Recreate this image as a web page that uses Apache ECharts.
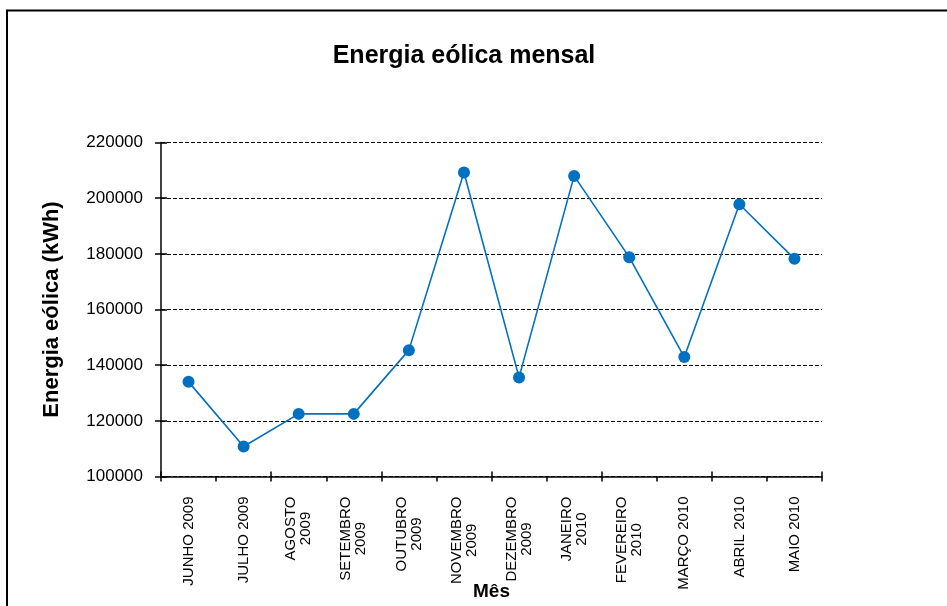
<!DOCTYPE html>
<html>
<head>
<meta charset="utf-8">
<script src="https://cdn.jsdelivr.net/npm/echarts@6/dist/echarts.min.js"></script>
<style>
  html, body { margin: 0; padding: 0; background: #fff; }
  #chart { width: 947px; height: 606px; }
</style>
</head>
<body>
<div id="chart"></div>
<script>
// Monthly wind energy, June 2009 – May 2010 (kWh)
const months = [
  'JUNHO 2009', 'JULHO 2009', 'AGOSTO\n2009', 'SETEMBRO\n2009', 'OUTUBRO\n2009',
  'NOVEMBRO\n2009', 'DEZEMBRO\n2009', 'JANEIRO\n2010', 'FEVEREIRO\n2010',
  'MARÇO 2010', 'ABRIL 2010', 'MAIO 2010'
];
const energyKWh = [134000, 110800, 122500, 122500, 145400, 209200, 135600, 208000, 178800, 142900, 197800, 178200];
const yTicks = { min: 100000, max: 220000, step: 20000 };

const FONT = "'Liberation Sans', Arial, sans-serif";
const chart = echarts.init(document.getElementById('chart'));

chart.setOption({
  backgroundColor: '#ffffff',
  animation: false,
  title: {
    text: 'Energia eólica mensal',
    left: 459,
    top: 39,
    textAlign: 'center',
    textStyle: { fontFamily: FONT, fontSize: 25, fontWeight: 'bold', color: '#000' }
  },
  graphic: [{
    type: 'rect',
    shape: { x: 7, y: 10.5, width: 980, height: 640 },
    style: { fill: 'none', stroke: '#000', lineWidth: 2 },
    silent: true
  }],
  grid: {
    left: 161, right: 125, top: 142.5, bottom: 129.5,
    containLabel: false,
    outerBoundsMode: 'none'
  },
  xAxis: [{
    type: 'category',
    data: months,
    boundaryGap: true,
    name: 'Mês',
    nameLocation: 'middle',
    nameGap: 106,
    nameMoveOverlap: false,
    nameTextStyle: { fontFamily: FONT, fontSize: 19, fontWeight: 'bold', color: '#000' },
    axisLine: { lineStyle: { color: '#000', width: 1.5 } },
    axisTick: { show: true, length: 5, lineStyle: { color: '#000', width: 1.5 } },
    axisLabel: {
      rotate: 90,
      margin: 20,
      interval: 0,
      fontFamily: FONT,
      fontSize: 15,
      color: '#000',
      lineHeight: 15,
      formatter: v => v.split('\n').map(s => '{c|' + s + '}').join('\n'),
      rich: { c: { align: 'center', fontFamily: FONT, fontSize: 15, lineHeight: 15, color: '#000' } }
    },
    splitLine: { show: false }
  }, {
    // inner half of the crossing tick marks
    type: 'category',
    data: months,
    position: 'bottom',
    boundaryGap: true,
    axisLine: { show: false },
    axisTick: { show: true, inside: true, length: 5, lineStyle: { color: '#000', width: 1.5 } },
    axisLabel: { show: false },
    splitLine: { show: false }
  }],
  yAxis: [{
    type: 'value',
    min: yTicks.min,
    max: yTicks.max,
    interval: yTicks.step,
    name: 'Energia eólica (kWh)',
    nameLocation: 'middle',
    nameGap: 98,
    nameMoveOverlap: false,
    nameTextStyle: { fontFamily: FONT, fontSize: 22, fontWeight: 'bold', color: '#000' },
    axisLine: { show: true, lineStyle: { color: '#000', width: 1.5 } },
    axisTick: { show: true, length: 6, lineStyle: { color: '#000', width: 1.5 } },
    axisLabel: { margin: 18, fontFamily: FONT, fontSize: 17, color: '#000', formatter: v => String(v) },
    splitLine: { show: true, lineStyle: { color: '#000', width: 1, type: [4, 2] } }
  }, {
    // inner half of the crossing tick marks
    type: 'value',
    position: 'left',
    min: yTicks.min,
    max: yTicks.max,
    interval: yTicks.step,
    axisLine: { show: false },
    axisTick: { show: true, inside: true, length: 6, lineStyle: { color: '#000', width: 1.5 } },
    axisLabel: { show: false },
    splitLine: { show: false }
  }],
  series: [{
    type: 'line',
    xAxisIndex: 0,
    yAxisIndex: 0,
    data: energyKWh,
    symbol: 'circle',
    symbolSize: 12,
    itemStyle: { color: '#0070C0' },
    lineStyle: { color: '#0070C0', width: 1.6 },
    z: 5
  }]
});
</script>
</body>
</html>
